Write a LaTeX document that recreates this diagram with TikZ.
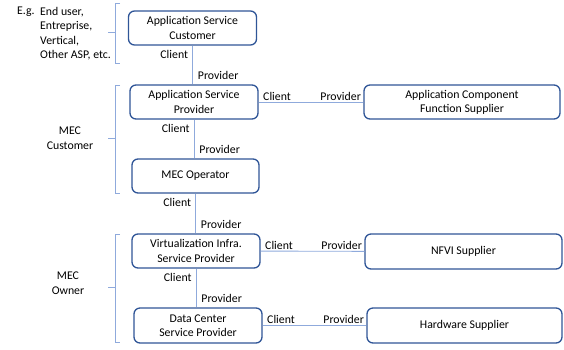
\documentclass[tikz,border=0pt]{standalone}
\usepackage{fontspec}
\setmainfont{Carlito}
\definecolor{boxblue}{HTML}{2F5597}
\definecolor{linkblue}{HTML}{8FAADC}
\tikzset{
  role/.style={draw=boxblue,line width=1.3pt,rounded corners=6pt,align=center,
    inner sep=0pt,font=\fontsize{11.8}{14.3}\selectfont},
  link/.style={draw=linkblue,line width=0.9pt},
  tag/.style={font=\fontsize{11.8}{14}\selectfont,inner sep=1pt},
  brace/.style={draw=linkblue,line width=0.9pt},
  grouplabel/.style={align=center,font=\fontsize{11.8}{15}\selectfont}
}
\begin{document}
\begin{tikzpicture}[x=1pt,y=-1pt]
    \useasboundingbox (0,0) rectangle (564,349);

    % roles, left column
    \node[role,minimum width=128,minimum height=34] (asc) at (192.5,28) {Application Service\\Customer};
    \node[role,minimum width=128,minimum height=34] (asp) at (194,102) {Application Service\\Provider};
    \node[role,minimum width=127,minimum height=34] (op) at (195.5,176) {MEC Operator};
    \node[role,minimum width=128,minimum height=34] (visp) at (196,251) {Virtualization Infra.\\Service Provider};
    \node[role,minimum width=128,minimum height=35] (dcsp) at (198,325.5) {Data Center\\Service Provider};

    % suppliers, right column
    \node[role,minimum width=196,minimum height=34] (acfs) at (462,102) {Application Component\\Function Supplier};
    \node[role,minimum width=197,minimum height=35] (nfvi) at (463.5,251.5) {NFVI Supplier};
    \node[role,minimum width=195,minimum height=35] (hws) at (464.5,325.5) {Hardware Supplier};

    % client / provider links
    \draw[link] (asc) -- (asc |- asp.north)
        node[tag,pos=0.22,left=3pt] {Client} node[tag,pos=0.78,right=4pt] {Provider};
    \draw[link] (asp) -- (asp |- op.north)
        node[tag,pos=0.22,left=3pt] {Client} node[tag,pos=0.78,right=4pt] {Provider};
    \draw[link] (op) -- (op |- visp.north)
        node[tag,pos=0.22,left=3pt] {Client} node[tag,pos=0.78,right=4pt] {Provider};
    \draw[link] (visp) -- (visp |- dcsp.north)
        node[tag,pos=0.22,left=3pt] {Client} node[tag,pos=0.78,right=4pt] {Provider};

    \draw[link] (asp) -- (acfs)
        node[tag,pos=0.03,anchor=south west] {Client} node[tag,pos=0.99,anchor=south east] {Provider};
    \draw[link] (visp) -- (nfvi)
        node[tag,pos=0.03,anchor=south west] {Client} node[tag,pos=0.99,anchor=south east] {Provider};
    \draw[link] (dcsp) -- (hws)
        node[tag,pos=0.03,anchor=south west] {Client} node[tag,pos=0.99,anchor=south east] {Provider};

    % group braces
    \draw[brace] (120,3) -- (115,3) -- (115,63) -- (120,63);
    \draw[brace] (115,32) -- (108,32);
    \draw[brace] (120,85) -- (115,85) -- (115,193) -- (120,193);
    \draw[brace] (115,138) -- (108,138);
    \draw[brace] (120,234) -- (115,234) -- (115,342) -- (120,342);
    \draw[brace] (115,287) -- (108,287);

    % group labels
    \node[tag,anchor=north west] (eg) at (16,6) {E.g.};
    \node[tag,anchor=north west,align=left,font=\fontsize{11.8}{14.5}\selectfont] (eglist) at (39,6)
        {End user,\\Entreprise,\\Vertical,\\Other ASP, etc.};
    \node[grouplabel] (cust) at (70,138) {MEC\\Customer};
    \node[grouplabel] (own) at (68,283) {MEC\\Owner};
\end{tikzpicture}
\end{document}
